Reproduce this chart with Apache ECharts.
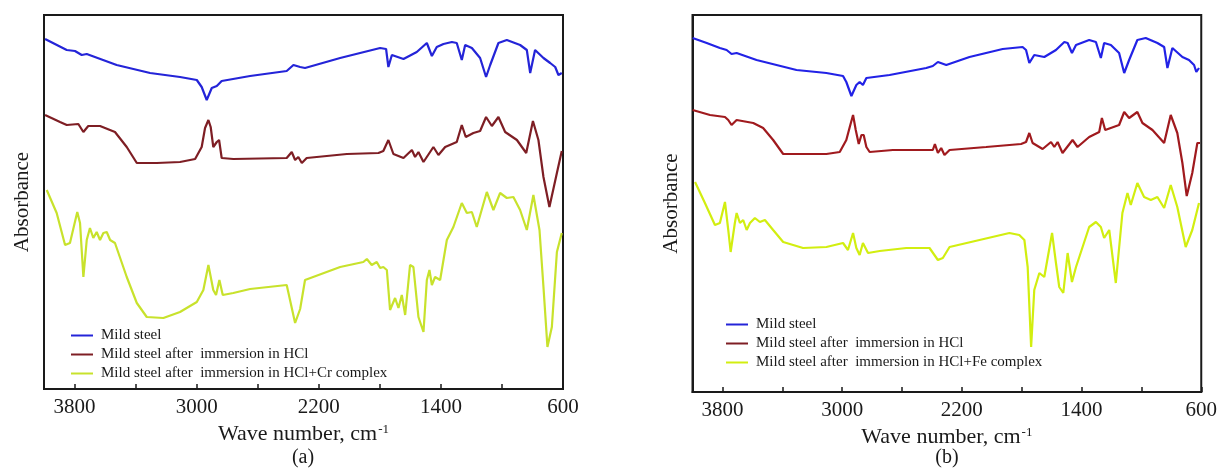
<!DOCTYPE html>
<html>
<head>
<meta charset="utf-8">
<title>FTIR spectra</title>
<script src="https://cdn.jsdelivr.net/npm/echarts@6/dist/echarts.min.js"></script>
<style>
  html, body { margin: 0; padding: 0; background: #fff; }
  #chart { width: 1220px; height: 469px; }
</style>
</head>
<body>
<div id="chart"></div>
<script>
// 谱线数据: [波数 cm-1, 吸光度(任意单位)]
// (a) 面板
var msA = [[3993,350],[3851,339],[3797,338],[3753,334],[3720,335],[3524,324],[3305,316],[3109,312],[2999,309],[2967,302],[2934,289],[2901,301],[2868,303],[2857,302],[2836,308],[2650,313],[2410,318],[2366,324],[2322,322],[2290,321],[2060,331],[1798,341],[1759,340],[1744,322],[1721,334],[1645,330],[1558,337],[1492,346],[1459,333],[1427,342],[1383,345],[1328,347],[1296,346],[1263,329],[1241,344],[1197,341],[1143,331],[1104,312],[1077,324],[1023,346],[968,349],[881,344],[837,339],[815,316],[783,339],[728,331],[684,326],[651,322],[630,314],[608,316]];
var hclA = [[3993,274],[3895,267],[3851,264],[3775,265],[3742,257],[3710,263],[3633,263],[3535,257],[3458,242],[3392,226],[3261,226],[3109,227],[3010,230],[2967,242],[2945,261],[2923,269],[2908,262],[2891,242],[2868,247],[2853,249],[2836,231],[2760,230],[2410,231],[2377,237],[2355,229],[2334,232],[2311,226],[2279,231],[2016,235],[1809,236],[1777,238],[1744,249],[1711,235],[1645,231],[1590,239],[1569,232],[1547,237],[1514,227],[1449,242],[1416,234],[1372,242],[1296,247],[1263,264],[1237,252],[1187,256],[1143,258],[1104,272],[1066,263],[1023,272],[979,257],[902,249],[841,236],[797,268],[761,249],[728,212],[689,182],[640,216],[608,238]];
var crA = [[3982,199],[3917,176],[3862,144],[3830,146],[3782,177],[3764,166],[3742,112],[3720,149],[3699,161],[3677,151],[3655,157],[3633,149],[3611,156],[3589,157],[3567,149],[3535,146],[3458,112],[3392,86],[3327,72],[3218,71],[3109,77],[2999,87],[2956,99],[2923,124],[2891,99],[2873,94],[2851,109],[2829,94],[2760,96],[2650,100],[2410,104],[2355,66],[2322,80],[2290,109],[2060,122],[1908,127],[1885,130],[1853,124],[1820,127],[1798,121],[1777,122],[1754,119],[1733,79],[1700,91],[1678,81],[1656,94],[1634,74],[1602,124],[1580,122],[1547,72],[1514,57],[1492,109],[1475,119],[1459,104],[1438,112],[1405,109],[1361,149],[1318,162],[1263,186],[1230,176],[1197,177],[1165,162],[1099,197],[1056,179],[1012,196],[968,191],[925,192],[881,179],[837,159],[794,194],[754,159],[728,102],[702,42],[673,62],[640,137],[608,156]];

// (b) 面板
var msB = [[3999,354],[3905,349],[3817,344],[3772,342],[3739,338],[3705,339],[3572,332],[3305,322],[3105,319],[2994,316],[2972,310],[2938,296],[2905,307],[2883,310],[2861,307],[2838,314],[2683,317],[2438,324],[2394,326],[2360,330],[2304,327],[2149,335],[1927,343],[1794,345],[1771,342],[1749,329],[1716,337],[1649,335],[1571,342],[1515,350],[1493,349],[1464,339],[1437,347],[1349,352],[1304,350],[1271,334],[1249,349],[1204,347],[1149,339],[1115,319],[1082,332],[1027,352],[971,354],[893,349],[848,345],[826,324],[793,344],[726,335],[682,332],[648,327],[633,320],[615,324]];
var hclB = [[3999,282],[3883,277],[3783,275],[3761,272],[3739,267],[3705,272],[3594,269],[3528,264],[3461,252],[3394,238],[3238,238],[3105,238],[3016,240],[2972,252],[2949,265],[2927,277],[2909,262],[2889,248],[2871,257],[2856,257],[2838,245],[2816,240],[2661,242],[2394,242],[2380,248],[2360,239],[2338,244],[2316,237],[2282,242],[2038,245],[1804,248],[1771,250],[1749,259],[1727,249],[1660,243],[1604,250],[1582,245],[1560,250],[1527,239],[1460,252],[1427,245],[1349,255],[1282,260],[1264,274],[1242,262],[1149,267],[1115,280],[1082,274],[1027,280],[993,269],[926,262],[848,249],[804,277],[760,259],[726,229],[697,196],[660,219],[626,249],[608,249]];
var feB = [[3983,210],[3917,189],[3850,167],[3817,169],[3783,190],[3761,162],[3745,140],[3717,169],[3705,179],[3683,169],[3661,172],[3638,162],[3616,169],[3583,174],[3550,170],[3516,172],[3461,162],[3394,150],[3261,144],[3105,145],[2994,149],[2961,142],[2927,159],[2905,144],[2883,137],[2861,149],[2827,139],[2749,141],[2571,144],[2416,144],[2360,132],[2327,134],[2282,145],[2082,152],[1882,159],[1816,157],[1782,152],[1760,125],[1737,45],[1716,102],[1682,119],[1649,115],[1597,159],[1571,129],[1549,105],[1522,99],[1493,139],[1464,110],[1437,125],[1349,165],[1304,170],[1271,165],[1249,154],[1215,162],[1171,109],[1127,179],[1093,199],[1071,187],[1027,209],[982,195],[937,192],[893,195],[848,184],[804,207],[760,185],[704,145],[660,162],[615,189]];

// 图例名称
var namesA = ['Mild steel', 'Mild steel after  immersion in HCl', 'Mild steel after  immersion in HCl+Cr complex'];
var namesB = ['Mild steel', 'Mild steel after  immersion in HCl', 'Mild steel after  immersion in HCl+Fe complex'];

// 刻度标签
var tickLabels = [3800, 3000, 2200, 1400, 600];

var FONT = 'Liberation Serif';
var INK = '#1a1a1a';

function makeX(idx, gap) {
  return {
    type: 'value', gridIndex: idx, inverse: true,
    min: 600, max: 4000, interval: 400,
    name: 'Wave number, cm{sup|-1}', nameLocation: 'middle', nameGap: gap,
    nameTextStyle: {
      fontFamily: FONT, fontSize: 22, color: INK,
      rich: { sup: { fontFamily: FONT, fontSize: 13, color: INK, verticalAlign: 'top', padding: [0, 0, 10, 1] } }
    },
    axisLine: { show: true, lineStyle: { color: INK, width: 2 } },
    axisTick: { show: true, inside: true, length: 5, lineStyle: { color: INK, width: 1.5 } },
    axisLabel: {
      fontFamily: FONT, fontSize: 21, color: INK, margin: 8,
      showMinLabel: true, showMaxLabel: true,
      formatter: function (v) { return tickLabels.indexOf(v) >= 0 ? String(v) : ''; }
    },
    splitLine: { show: false }
  };
}

function makeY(idx, top) {
  return {
    type: 'value', gridIndex: idx, min: 0, max: top,
    name: 'Absorbance', nameLocation: 'middle', nameGap: 11,
    nameTextStyle: { fontFamily: FONT, fontSize: 21, color: INK },
    axisLine: { show: true, lineStyle: { color: INK, width: 2 } },
    axisTick: { show: false }, axisLabel: { show: false },
    splitLine: { show: false }
  };
}

function line(name, data, color, idx) {
  return {
    name: name, type: 'line', data: data,
    xAxisIndex: idx, yAxisIndex: idx,
    showSymbol: false, symbol: 'none',
    lineStyle: { color: color, width: 2.2 },
    itemStyle: { color: color },
    animation: false
  };
}

var chart = echarts.init(document.getElementById('chart'));

var legendBase = {
  orient: 'vertical', icon: 'rect', itemWidth: 22, itemHeight: 2, itemGap: 4,
  textStyle: { fontFamily: FONT, fontSize: 15, color: INK, padding: [0, 0, 0, 3] },
  selectedMode: false
};

var option = {
  backgroundColor: '#fff',
  animation: false,
  grid: [
    { left: 44, top: 15, width: 519, bottom: 80, show: true, borderColor: INK, borderWidth: 2 },
    { left: 692.5, top: 15, width: 509.5, bottom: 77, show: true, borderColor: INK, borderWidth: 2 }
  ],
  xAxis: [makeX(0, 34), makeX(1, 30)],
  yAxis: [makeY(0, 374), makeY(1, 377)],
  legend: [
    Object.assign({}, legendBase, { left: 66, top: 323, data: namesA }),
    Object.assign({}, legendBase, { left: 721, top: 312, data: namesB })
  ],
  graphic: [
    { type: 'text', x: 303, y: 458, style: { text: '(a)', font: '20px "Liberation Serif"', fill: INK, align: 'center', verticalAlign: 'middle' } },
    { type: 'text', x: 947, y: 458, style: { text: '(b)', font: '20px "Liberation Serif"', fill: INK, align: 'center', verticalAlign: 'middle' } }
  ],
  series: [
    line(namesA[0], msA, '#2424d8', 0),
    line(namesA[1], hclA, '#7e1e24', 0),
    line(namesA[2], crA, '#c8e22c', 0),
    line(namesB[0], msB, '#2222e6', 1),
    line(namesB[1], hclB, '#a01a1e', 1),
    line(namesB[2], feB, '#d2ee10', 1)
  ]
};

chart.setOption(option);
</script>
</body>
</html>
